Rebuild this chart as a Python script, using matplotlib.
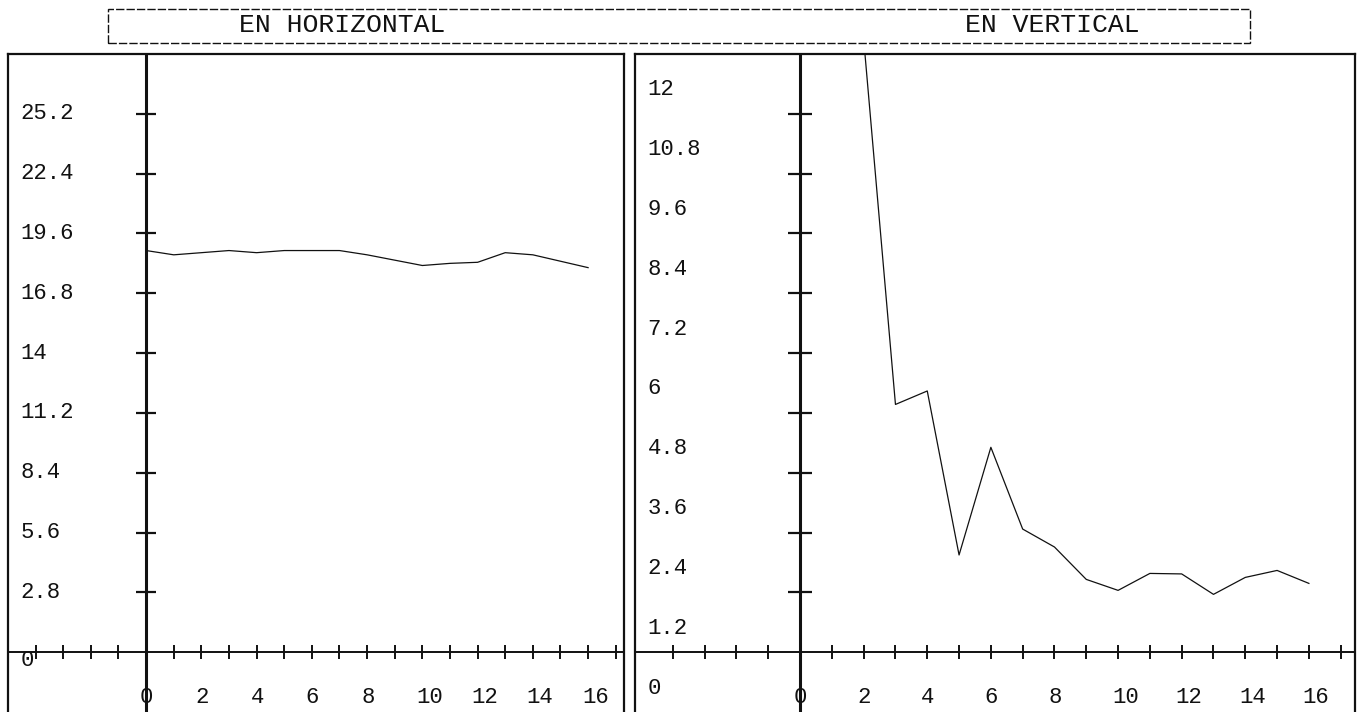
import matplotlib
matplotlib.use("Agg")
import matplotlib.pyplot as plt
from matplotlib.patches import Rectangle

# --- data -------------------------------------------------------------
horiz_x = list(range(0, 17))
horiz_y = [18.8, 18.6, 18.7, 18.8, 18.7, 18.8, 18.8, 18.8, 18.6,
           18.35, 18.1, 18.2, 18.25, 18.7, 18.6, 18.3, 18.0]

vert_x = list(range(2, 17))
vert_y = [12.3, 4.97, 5.24, 1.95, 4.11, 2.47, 2.11, 1.46, 1.24,
          1.58, 1.57, 1.16, 1.50, 1.64, 1.38]

x_tick_labels = ["0", "2", "4", "6", "8", "10", "12", "14", "16"]
horiz_y_labels = ["2.8", "5.6", "8.4", "11.2", "14", "16.8", "19.6", "22.4", "25.2"]
vert_y_labels = ["1.2", "2.4", "3.6", "4.8", "6", "7.2", "8.4", "9.6", "10.8", "12"]

titles = ["EN HORIZONTAL", "EN VERTICAL"]

# --- figure -------------------------------------------------------------
W, H = 1365, 712
fig = plt.figure(figsize=(W / 100, H / 100), dpi=100)
FONT = "Liberation Mono"
INK = "#111111"


def px_box(x0, x1, top):
    return [x0 / W, 0.0, (x1 - x0) / W, (H - top) / H]


def style_panel(ax):
    for side in ("top", "left", "right"):
        ax.spines[side].set_linewidth(1.6)
        ax.spines[side].set_color(INK)
    ax.spines["bottom"].set_visible(False)
    ax.set_xticks([])
    ax.set_yticks([])
    ax.patch.set_alpha(0)


def draw_axes_cross(ax, xmin, xmax, ytick_vals, ytick_len):
    ax.axhline(0, color=INK, lw=1.4, zorder=2)
    ax.axvline(0, color=INK, lw=2.2, zorder=2)
    xt = [t for t in range(int(xmin) + 1, int(xmax) + 1) if t != 0]
    ax.plot(xt, [0] * len(xt), ls="none", marker="|", ms=10, mew=1.4,
            color=INK, zorder=3)
    ax.plot([0] * len(ytick_vals), ytick_vals, ls="none", marker="_",
            ms=ytick_len, mew=1.6, color=INK, zorder=3)


# left panel: horizontal measurement
ax1 = fig.add_axes(px_box(8, 624, 54))
ax1.set_xlim(-5, 17.3)
ax1.set_ylim(-2.8, 28.0)
style_panel(ax1)
h_ticks = [float(v) for v in horiz_y_labels]
draw_axes_cross(ax1, -5, 17.3, h_ticks, 14.5)
ax1.plot(horiz_x, horiz_y, color=INK, lw=0.9, zorder=4)
for lab, v in zip(horiz_y_labels, h_ticks):
    ax1.text(-4.55, v, lab, ha="left", va="center", family=FONT,
             fontsize=16, color=INK)
ax1.text(-4.55, -0.37, "0", ha="left", va="center", family=FONT,
         fontsize=16, color=INK)
for lab in x_tick_labels:
    ax1.text(float(lab) - 0.22, -2.1, lab, ha="left", va="center",
             family=FONT, fontsize=16, color=INK)

# right panel: vertical measurement
ax2 = fig.add_axes(px_box(635, 1355, 54))
ax2.set_xlim(-5.19, 17.45)
ax2.set_ylim(-1.2, 12.0)
style_panel(ax2)
v_ticks = [float(v) for v in vert_y_labels[:-1]]
draw_axes_cross(ax2, -5.19, 17.45, v_ticks, 17)
ax2.plot(vert_x, vert_y, color=INK, lw=0.9, zorder=4, clip_on=True)
for lab in vert_y_labels + ["0"]:
    ax2.text(-4.8, float(lab) - 0.72, lab, ha="left", va="center",
             family=FONT, fontsize=16, color=INK)
for lab in x_tick_labels:
    ax2.text(float(lab) - 0.19, -0.9, lab, ha="left", va="center",
             family=FONT, fontsize=16, color=INK)

# title strip
fig.patches.append(Rectangle((108 / W, 1 - 43 / H), (1250 - 108) / W,
                             (43 - 9) / H, transform=fig.transFigure,
                             fill=False, ec=INK, lw=1.0, ls=(0, (6, 1.5))))
fig.text(342 / W, 1 - 25 / H, titles[0], ha="center", va="center",
         family=FONT, fontsize=19, color=INK)
fig.text(1052 / W, 1 - 25 / H, titles[1], ha="center", va="center",
         family=FONT, fontsize=19, color=INK)

fig.savefig("out.png", dpi=100, facecolor="white")
